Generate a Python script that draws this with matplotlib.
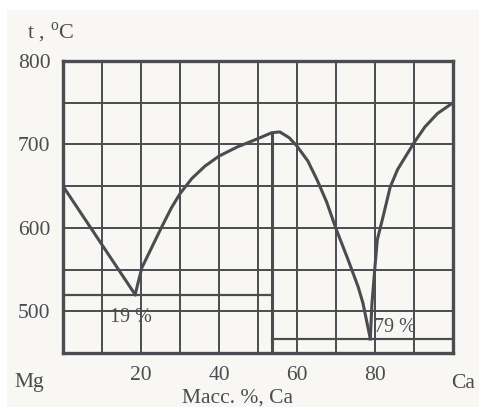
import matplotlib
matplotlib.use("Agg")
import matplotlib.pyplot as plt
from matplotlib.patches import Rectangle

plt.rcParams['font.family'] = ['Liberation Serif', 'DejaVu Serif']
plt.rcParams['mathtext.fontset'] = 'custom'
plt.rcParams['mathtext.rm'] = 'Liberation Serif'

# ---- data ----
left_liq_x = [0, 18.5]
left_liq_t = [650, 520]

mid_liq_x = [18.5, 20.2, 22.7, 25.3, 27.8, 30.0, 33.0, 36.4, 40.0, 44.7, 50.0,
             53.5, 55.6, 58.0, 60.0, 62.8, 65.2, 67.6, 70.0, 73.0, 75.7, 76.9, 78.8]
mid_liq_t = [520, 552, 576, 601, 624, 641, 659, 674, 686, 697, 707,
             714, 715, 708, 698, 680, 657, 631, 599, 563, 529, 510, 467]

right_liq_x = [78.8, 79.2, 80.0, 80.6, 82.1, 83.9, 85.8, 90.0, 92.8, 96.0, 100]
right_liq_t = [467, 508, 554, 586, 614, 649, 670, 702, 721, 737, 750]

eut1_x = [0, 53.5]
eut1_t = [520, 520]
eut2_x = [53.5, 100]
eut2_t = [467, 467]
compound_x = [53.5, 53.5]
compound_t = [450, 714]

x_ticks = [20, 40, 60, 80]
x_ticklabels = ['20', '40', '60', '80']
y_ticks = [500, 600, 700, 800]
y_ticklabels = ['500', '600', '700', '800']
x_grid = [10, 20, 30, 40, 50, 60, 70, 80, 90]
y_grid = [500, 550, 600, 650, 700, 750]

labels = [("19 %", 17.4, 493), ("79 %", 85.2, 480)]

# ---- figure ----
col = '#4a4c51'
bg = '#f8f7f3'
fig = plt.figure(figsize=(4.79, 4.07), dpi=100, facecolor=bg)
fig.patches.append(Rectangle((0, 1 - 10 / 407), 1, 10 / 407, transform=fig.transFigure,
                             facecolor='white', edgecolor='none', zorder=0))
fig.patches.append(Rectangle((0, 0), 7 / 479, 1, transform=fig.transFigure,
                             facecolor='white', edgecolor='none', zorder=0))

ax = fig.add_axes([63 / 479, 1 - 353 / 407, 390 / 479, 292 / 407])
ax.set_facecolor(bg)
ax.set_xlim(0, 100)
ax.set_ylim(450, 800)

for gx in x_grid:
    ax.axvline(gx, color=col, lw=1.4, zorder=1)
for gy in y_grid:
    ax.axhline(gy, color=col, lw=1.4, zorder=1)

lw = 2.2
ax.plot(left_liq_x, left_liq_t, color=col, lw=lw, zorder=3, solid_joinstyle='round')
ax.plot(mid_liq_x, mid_liq_t, color=col, lw=lw, zorder=3, solid_joinstyle='round')
ax.plot(right_liq_x, right_liq_t, color=col, lw=lw, zorder=3, solid_joinstyle='round')
ax.plot(eut1_x, eut1_t, color=col, lw=1.6, zorder=2)
ax.plot(eut2_x, eut2_t, color=col, lw=1.6, zorder=2)
ax.plot(compound_x, compound_t, color=col, lw=2.2, zorder=2)

for txt, lx, ly in labels:
    ax.text(lx, ly, txt, fontsize=14.5, color=col, ha='center', va='center', zorder=4)

for s in ax.spines.values():
    s.set_linewidth(2.4)
    s.set_color(col)

ax.set_xticks(x_ticks)
ax.set_xticklabels(x_ticklabels)
ax.set_yticks(y_ticks)
ax.set_yticklabels(y_ticklabels)
ax.tick_params(length=0, labelsize=15.5, labelcolor=col)
ax.tick_params(axis='x', pad=9)
ax.tick_params(axis='y', pad=9)

fig.text(29 / 479, 1 - 383 / 407, 'Mg', fontsize=15.5, color=col, ha='center', va='center')
fig.text(463 / 479, 1 - 383 / 407, 'Ca', fontsize=15.5, color=col, ha='center', va='center')
fig.text(237 / 479, 1 - 398 / 407, 'Масс. %, Ca', fontsize=15.5, color=col, ha='center', va='center')
fig.text(27 / 479, 1 - 33 / 407, r't , $^{\mathrm{o}}$C', fontsize=16, color=col, ha='left', va='center')

fig.savefig('out.png', dpi=100, facecolor=bg)
